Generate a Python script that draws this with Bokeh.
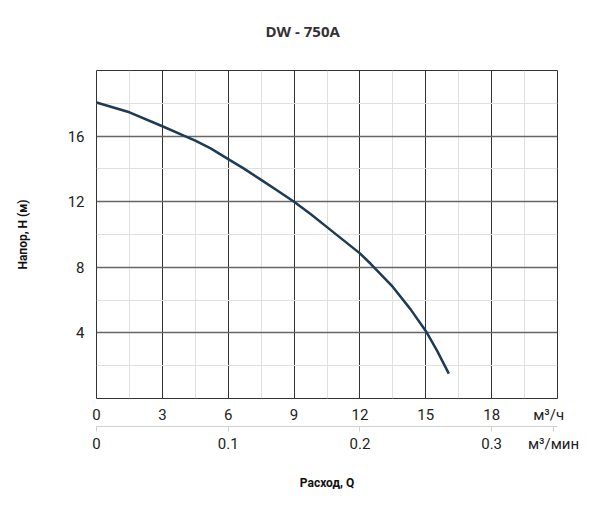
from bokeh.plotting import figure
from bokeh.models import Range1d, LinearAxis, FixedTicker
from bokeh.embed import file_html
from bokeh.resources import INLINE

# data
flow_m3h = [0, 1.5, 3, 4, 4.5, 5.2, 6, 6.7, 7.5, 8.2, 9, 9.75, 10.5, 12, 12.5,
            13.5, 14.3, 15, 15.5, 16.05]
head_m = [18.05, 17.45, 16.6, 16.02, 15.72, 15.25, 14.6, 14.03, 13.33, 12.71, 12.0,
          11.25, 10.45, 8.85, 8.2, 6.8, 5.45, 4.12, 2.95, 1.52]
x_ticks = [0, 3, 6, 9, 12, 15, 18]
x_minor = [1.5, 4.5, 7.5, 10.5, 13.5, 16.5, 19.5]
y_ticks = [4, 8, 12, 16]
y_minor = [2, 6, 10, 14, 18]
min_ticks = [0, 0.1, 0.2, 0.3]
title_text = "DW - 750A"
x_label = "Расход, Q"
y_label = "Напор, H (м)"
unit_h = "м³/ч"
unit_min = "м³/мин"
unit_h_pos = 20.6      # in m3/h scale
unit_min_pos = 0.347   # in m3/min scale

p = figure(frame_width=461, frame_height=328,
           min_border_left=96, min_border_right=39,
           min_border_top=70, min_border_bottom=117,
           x_range=Range1d(0, 21), y_range=Range1d(0, 20),
           output_backend="svg", toolbar_location=None,
           background_fill_color="white", border_fill_color="white")
p.extra_x_ranges = {"min": Range1d(0, 0.35)}

p.outline_line_color = "#333333"
p.outline_line_width = 1

# trailing empty line lifts the title further above the frame
p.title.text = title_text + "\n "
p.title.align = "left"
p.title.offset = 169
p.title.standoff = 20
p.title.text_font = "Open Sans"
p.title.text_font_style = "bold"
p.title.text_font_size = "15px"
p.title.text_color = "#333333"

# primary bottom axis (m3/h)
xa = p.xaxis[0]
xa.ticker = FixedTicker(ticks=x_ticks + [unit_h_pos])
xa.major_label_overrides = {unit_h_pos: unit_h}
xa.axis_line_color = None
xa.major_tick_line_color = None
xa.minor_tick_line_color = None
xa.major_label_standoff = 1
xa.major_label_text_font = "Roboto"
xa.major_label_text_font_size = "15px"
xa.major_label_text_color = "#222222"

# secondary bottom axis (m3/min)
xa2 = LinearAxis(x_range_name="min",
                 ticker=FixedTicker(ticks=min_ticks + [unit_min_pos]))
xa2.major_label_overrides = {unit_min_pos: unit_min}
xa2.axis_line_color = "#d0d0d0"
xa2.major_tick_line_color = "#d0d0d0"
xa2.major_tick_in = 0
xa2.major_tick_out = 5
xa2.minor_tick_line_color = None
xa2.major_label_standoff = 3
xa2.major_label_text_font = "Roboto"
xa2.major_label_text_font_size = "15px"
xa2.major_label_text_color = "#222222"
xa2.axis_label = x_label
xa2.axis_label_standoff = 20
xa2.axis_label_text_font = "Roboto"
xa2.axis_label_text_font_style = "bold"
xa2.axis_label_text_font_size = "12px"
xa2.axis_label_text_color = "#111111"
p.add_layout(xa2, "below")

ya = p.yaxis[0]
ya.ticker = FixedTicker(ticks=y_ticks)
ya.axis_line_color = None
ya.major_tick_line_color = None
ya.minor_tick_line_color = None
ya.major_label_standoff = 6
ya.major_label_text_font = "Roboto"
ya.major_label_text_font_size = "15px"
ya.major_label_text_color = "#222222"
ya.axis_label = y_label
ya.axis_label_standoff = 35
ya.axis_label_text_font = "Roboto"
ya.axis_label_text_font_style = "bold"
ya.axis_label_text_font_size = "12px"
ya.axis_label_text_color = "#111111"

p.xgrid[0].ticker = FixedTicker(ticks=x_ticks[1:], minor_ticks=x_minor)
p.xgrid[0].grid_line_color = "#333333"
p.xgrid[0].grid_line_width = 1
p.xgrid[0].minor_grid_line_color = "#e0e0e0"
p.ygrid[0].ticker = FixedTicker(ticks=y_ticks, minor_ticks=y_minor)
p.ygrid[0].grid_line_color = "#666666"
p.ygrid[0].grid_line_width = 1.3
p.ygrid[0].minor_grid_line_color = "#e0e0e0"

p.line(flow_m3h, head_m, line_color="#1d3a56", line_width=2.5)

open("out.html", "w").write(file_html(p, INLINE))
